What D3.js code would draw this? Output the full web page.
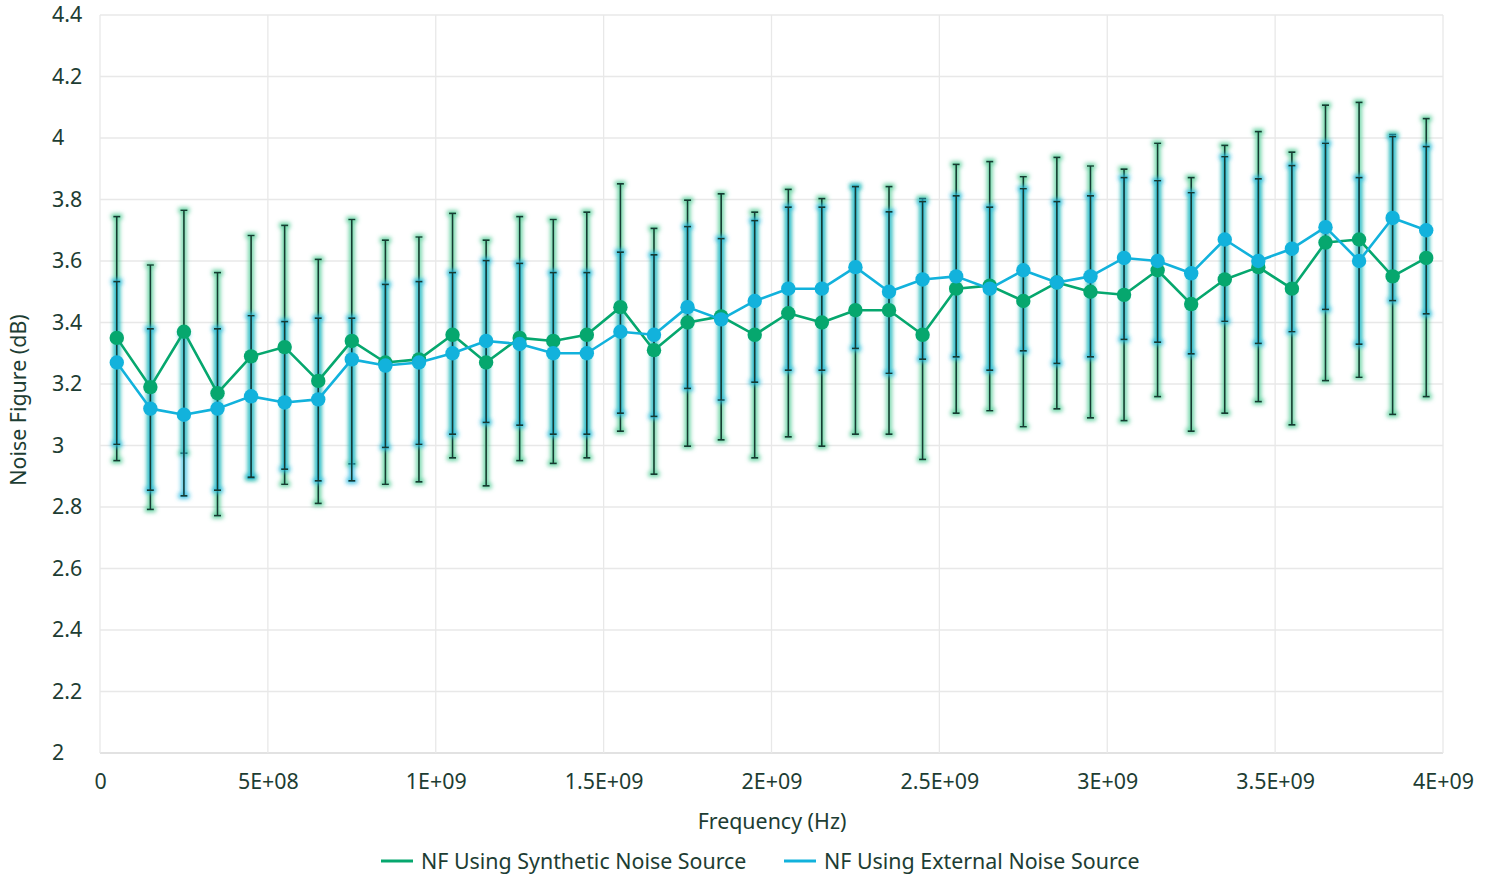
<!DOCTYPE html>
<html>
<head>
<meta charset="utf-8">
<script src="https://cdn.jsdelivr.net/npm/d3@7"></script>
<style>
  body { margin: 0; background: #fff; }
  svg text { font-family: "Noto Sans", "Open Sans", sans-serif; fill: #1d3d33; }
</style>
</head>
<body>
<div class="content"></div>
<script>
// frequencies (Hz)
const freqs = [5e7, 1.5e8, 2.5e8, 3.5e8, 4.5e8, 5.5e8, 6.5e8, 7.5e8, 8.5e8, 9.5e8,
               1.05e9, 1.15e9, 1.25e9, 1.35e9, 1.45e9, 1.55e9, 1.65e9, 1.75e9, 1.85e9, 1.95e9,
               2.05e9, 2.15e9, 2.25e9, 2.35e9, 2.45e9, 2.55e9, 2.65e9, 2.75e9, 2.85e9, 2.95e9,
               3.05e9, 3.15e9, 3.25e9, 3.35e9, 3.45e9, 3.55e9, 3.65e9, 3.75e9, 3.85e9, 3.95e9];

// NF using synthetic noise source
const synthNF = [3.35, 3.19, 3.37, 3.17, 3.29, 3.32, 3.21, 3.34, 3.27, 3.28,
                 3.36, 3.27, 3.35, 3.34, 3.36, 3.45, 3.31, 3.40, 3.42, 3.36,
                 3.43, 3.40, 3.44, 3.44, 3.36, 3.51, 3.52, 3.47, 3.53, 3.50,
                 3.49, 3.57, 3.46, 3.54, 3.58, 3.51, 3.66, 3.67, 3.55, 3.61];
const synthHi = [3.744, 3.587, 3.765, 3.562, 3.683, 3.716, 3.605, 3.735, 3.668, 3.678,
                 3.755, 3.668, 3.744, 3.735, 3.759, 3.851, 3.706, 3.798, 3.818, 3.759,
                 3.833, 3.803, 3.842, 3.842, 3.803, 3.914, 3.923, 3.874, 3.937, 3.909,
                 3.899, 3.983, 3.871, 3.976, 4.021, 3.954, 4.107, 4.116, 4.011, 4.063];
const synthLo = [2.951, 2.792, 2.975, 2.772, 2.895, 2.874, 2.812, 2.940, 2.874, 2.882,
                 2.960, 2.869, 2.951, 2.942, 2.960, 3.047, 2.907, 2.998, 3.018, 2.960,
                 3.028, 2.998, 3.037, 3.037, 2.955, 3.105, 3.113, 3.061, 3.119, 3.090,
                 3.081, 3.159, 3.047, 3.105, 3.143, 3.067, 3.211, 3.222, 3.101, 3.159];

// NF using external noise source
const extNF = [3.27, 3.12, 3.10, 3.12, 3.16, 3.14, 3.15, 3.28, 3.26, 3.27,
               3.30, 3.34, 3.33, 3.30, 3.30, 3.37, 3.36, 3.45, 3.41, 3.47,
               3.51, 3.51, 3.58, 3.50, 3.54, 3.55, 3.51, 3.57, 3.53, 3.55,
               3.61, 3.60, 3.56, 3.67, 3.60, 3.64, 3.71, 3.60, 3.74, 3.70];
const extHi = [3.533, 3.379, 3.362, 3.379, 3.422, 3.403, 3.414, 3.414, 3.524, 3.533,
               3.562, 3.601, 3.592, 3.562, 3.562, 3.629, 3.620, 3.712, 3.673, 3.731,
               3.775, 3.775, 3.842, 3.760, 3.793, 3.812, 3.775, 3.835, 3.793, 3.812,
               3.871, 3.861, 3.822, 3.939, 3.867, 3.910, 3.983, 3.871, 4.004, 3.972];
const extLo = [3.004, 2.855, 2.836, 2.855, 2.897, 2.923, 2.885, 2.885, 2.994, 3.004,
               3.037, 3.075, 3.066, 3.037, 3.037, 3.105, 3.095, 3.186, 3.148, 3.206,
               3.245, 3.245, 3.316, 3.235, 3.281, 3.288, 3.245, 3.308, 3.267, 3.288,
               3.345, 3.336, 3.298, 3.404, 3.332, 3.370, 3.443, 3.330, 3.471, 3.428];

const xTicks = [0, 5e8, 1e9, 1.5e9, 2e9, 2.5e9, 3e9, 3.5e9, 4e9];
const xTickLabels = ['0', '5E+08', '1E+09', '1.5E+09', '2E+09', '2.5E+09', '3E+09', '3.5E+09', '4E+09'];
const yTicks = [2, 2.2, 2.4, 2.6, 2.8, 3, 3.2, 3.4, 3.6, 3.8, 4, 4.2, 4.4];
const yTickLabels = ['2', '2.2', '2.4', '2.6', '2.8', '3', '3.2', '3.4', '3.6', '3.8', '4', '4.2', '4.4'];

const seriesNames = ['NF Using Synthetic Noise Source', 'NF Using External Noise Source'];
const seriesColors = ['#06a76e', '#12b2dc'];
const glowColors = ['#4fcb94', '#25b9e0'];

const width = 1494, height = 874;
const plot = { left: 100, right: 1443, top: 15, bottom: 753 };
const fontSize = '21.4px';

const svg = d3.select('div.content')
              .append('svg')
              .attr('width', width)
              .attr('height', height);

const xScale = d3.scaleLinear().domain([0, 4e9]).range([plot.left, plot.right]);
const yScale = d3.scaleLinear().domain([2, 4.4]).range([plot.bottom, plot.top]);

// glow filters for the error bars
const defs = svg.append('defs');
glowColors.forEach((c, i) => {
  const f = defs.append('filter')
                .attr('id', 'glow' + i)
                .attr('x', '-300%').attr('y', '-10%')
                .attr('width', '700%').attr('height', '120%');
  f.append('feMorphology').attr('in', 'SourceAlpha').attr('operator', 'dilate').attr('radius', 2.4).attr('result', 'dil');
  f.append('feGaussianBlur').attr('in', 'dil').attr('stdDeviation', 2.2).attr('result', 'blur');
  f.append('feFlood').attr('flood-color', c).attr('flood-opacity', 0.85);
  f.append('feComposite').attr('in2', 'blur').attr('operator', 'in').attr('result', 'glow');
  const m = f.append('feMerge');
  m.append('feMergeNode').attr('in', 'glow');
  m.append('feMergeNode').attr('in', 'SourceGraphic');
});

// gridlines
svg.append('g')
   .selectAll('line.hgrid')
   .data(yTicks)
   .enter()
   .append('line')
   .attr('x1', plot.left).attr('x2', plot.right)
   .attr('y1', d => yScale(d)).attr('y2', d => yScale(d))
   .attr('stroke', d => d === 2 ? '#d9d9d9' : '#e8e8e8')
   .attr('stroke-width', 1.3);

svg.append('g')
   .selectAll('line.vgrid')
   .data(xTicks)
   .enter()
   .append('line')
   .attr('x1', d => xScale(d)).attr('x2', d => xScale(d))
   .attr('y1', plot.top).attr('y2', plot.bottom)
   .attr('stroke', '#e8e8e8')
   .attr('stroke-width', 1.3);

// axes (labels only, lines drawn by grid)
const xAxis = d3.axisBottom(xScale)
                .tickValues(xTicks)
                .tickSize(0)
                .tickPadding(21)
                .tickFormat((d, i) => xTickLabels[i]);
svg.append('g')
   .attr('transform', `translate(0, ${plot.bottom})`)
   .call(xAxis)
   .call(g => g.select('.domain').remove())
   .selectAll('text')
   .style('font-size', fontSize)
   .attr('fill', '#1d3d33');

const yAxis = d3.axisLeft(yScale)
                .tickValues(yTicks)
                .tickSize(0)
                .tickFormat((d, i) => yTickLabels[i]);
svg.append('g')
   .attr('transform', 'translate(52, 0)')
   .call(yAxis)
   .call(g => g.select('.domain').remove())
   .selectAll('text')
   .attr('x', 0)
   .attr('text-anchor', 'start')
   .style('font-size', fontSize)
   .attr('fill', '#1d3d33');

// axis titles
svg.append('text')
   .attr('x', 772).attr('y', 829)
   .attr('text-anchor', 'middle')
   .style('font-size', fontSize)
   .text('Frequency (Hz)');

svg.append('text')
   .attr('transform', 'translate(26, 400) rotate(-90)')
   .attr('text-anchor', 'middle')
   .style('font-size', fontSize)
   .text('Noise Figure (dB)');

// series
const series = [
  { values: synthNF, hi: synthHi, lo: synthLo },
  { values: extNF, hi: extHi, lo: extLo }
];

const capW = 3.5;
series.forEach((s, si) => {
  const g = svg.append('g').attr('filter', `url(#glow${si})`);
  g.selectAll('path')
   .data(freqs)
   .enter()
   .append('path')
   .attr('d', (d, i) => {
     const x = xScale(d), yh = yScale(s.hi[i]), yl = yScale(s.lo[i]);
     return `M${x},${yh}V${yl}M${x - capW},${yh}H${x + capW}M${x - capW},${yl}H${x + capW}`;
   })
   .attr('fill', 'none')
   .attr('stroke', '#173a30')
   .attr('stroke-width', 1.7);
});

series.forEach((s, si) => {
  const line = d3.line()
                 .x((d, i) => xScale(freqs[i]))
                 .y(d => yScale(d));
  svg.append('path')
     .datum(s.values)
     .attr('d', line)
     .attr('fill', 'none')
     .attr('stroke', seriesColors[si])
     .attr('stroke-width', 2.6)
     .attr('stroke-linejoin', 'round');

  svg.append('g')
     .selectAll('circle')
     .data(s.values)
     .enter()
     .append('circle')
     .attr('cx', (d, i) => xScale(freqs[i]))
     .attr('cy', d => yScale(d))
     .attr('r', 7.2)
     .attr('fill', seriesColors[si]);
});

// legend
const legendItems = [
  { x: 381, name: seriesNames[0], color: seriesColors[0] },
  { x: 784, name: seriesNames[1], color: seriesColors[1] }
];
const legend = svg.append('g')
                  .selectAll('g')
                  .data(legendItems)
                  .enter()
                  .append('g')
                  .attr('transform', d => `translate(${d.x}, 861)`);
legend.append('line')
      .attr('x1', 0).attr('x2', 32)
      .attr('stroke', d => d.color)
      .attr('stroke-width', 3);
legend.append('text')
      .attr('x', 40).attr('dy', '0.35em')
      .style('font-size', fontSize)
      .text(d => d.name);
</script>
</body>
</html>
